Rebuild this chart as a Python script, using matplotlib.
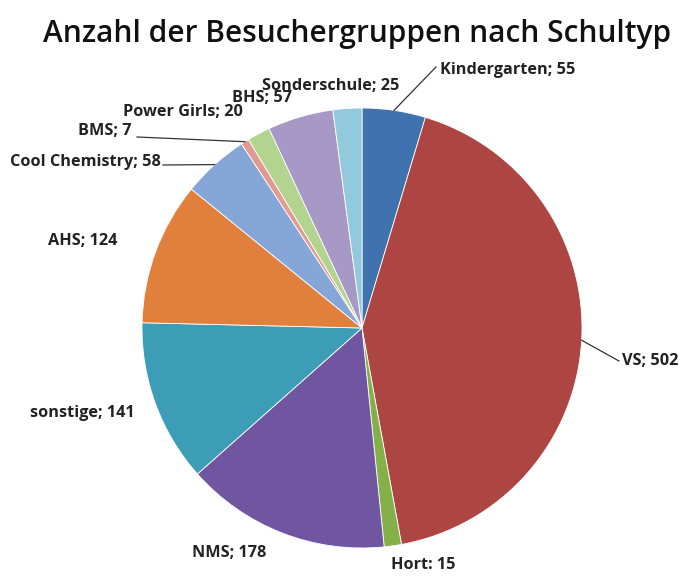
import numpy as np
import matplotlib
matplotlib.use("Agg")
import matplotlib.pyplot as plt

# data, clockwise from 12 o'clock
categories = ["Kindergarten", "VS", "Hort", "NMS", "sonstige", "AHS",
              "Cool Chemistry", "BMS", "Power Girls", "BHS", "Sonderschule"]
values = [55, 502, 15, 178, 141, 124, 58, 7, 20, 57, 25]
labels = ["Kindergarten; 55", "VS; 502", "Hort: 15", "NMS; 178", "sonstige; 141",
          "AHS; 124", "Cool Chemistry; 58", "BMS; 7", "Power Girls; 20",
          "BHS; 57", "Sonderschule; 25"]

colors = ["#3f72ae", "#ad4542", "#84b04a", "#7056a0", "#3d9db7", "#e0803c",
          "#86a6d8", "#df9a92", "#b3d48f", "#a898c6", "#93c9dc"]

# label placement in pixels (left edge, vertical centre)
label_px = [(440, 70), (622, 361), (391, 565), (192, 553), (30, 413), (48, 241),
            (10, 162), (78, 131), (123, 112), (232, 98), (262, 86)]
# where the leader line meets the text (pixels), None = no line
leader_end = [(436, 67), (619, 361), None, None, None, None,
              (163, 165), (137, 137), None, None, None]

W, H = 696, 576
cx, cy, r = 362, 328, 220

fig = plt.figure(figsize=(W / 100, H / 100), dpi=100)
fig.patch.set_facecolor("white")
ax = fig.add_axes([(cx - r) / W, (H - cy - r) / H, 2 * r / W, 2 * r / H])

wedges, _ = ax.pie(values, colors=colors, startangle=90, counterclock=False,
                   radius=1, wedgeprops=dict(edgecolor="white", linewidth=0.6))
ax.set_xlim(-1, 1)
ax.set_ylim(-1, 1)
ax.axis("off")

def px2data(x, y):
    return (x - cx) / r, (cy - y) / r

for w, lab, (lx, ly), le in zip(wedges, labels, label_px, leader_end):
    tx, ty = px2data(lx, ly)
    if le is not None:
        mid = np.deg2rad((w.theta1 + w.theta2) / 2)
        ex, ey = np.cos(mid), np.sin(mid)
        qx, qy = px2data(*le)
        ax.plot([ex, qx], [ey, qy], color="#333333", lw=0.9, clip_on=False)
    ax.text(tx, ty, lab, ha="left", va="center", fontsize=11.7,
            fontweight="bold", color="#222222", fontfamily="Open Sans",
            clip_on=False)

fig.text(0.513, 1 - 34 / H, "Anzahl der Besuchergruppen nach Schultyp",
         ha="center", va="center", fontsize=21.5, fontweight="semibold",
         fontfamily="Open Sans", color="#111111")

fig.savefig("out.png", dpi=100)
